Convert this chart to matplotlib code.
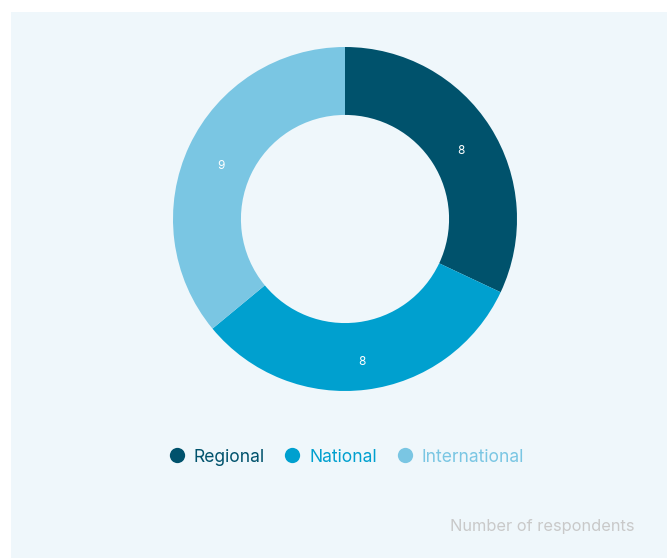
import matplotlib
matplotlib.use("Agg")
import matplotlib.pyplot as plt
from matplotlib.lines import Line2D

categories = ["Regional", "National", "International"]
values = [8, 8, 9]
colors = ["#00526c", "#00a0cf", "#7ac6e3"]
note = "Number of respondents"

W, H = 668, 558
FONT = "Inter"
fig = plt.figure(figsize=(W / 100, H / 100), dpi=100)
fig.patch.set_facecolor("white")
bg = fig.add_axes([11 / W, 0, (667 - 11) / W, (H - 12) / H], zorder=-5)
bg.set_facecolor("#eff7fb")
bg.set_xticks([])
bg.set_yticks([])
for s in bg.spines.values():
    s.set_visible(False)

cx, cy, r = 345, 219, 172
ax = fig.add_axes([(cx - r) / W, (H - cy - r) / H, 2 * r / W, 2 * r / H], zorder=1)
ax.set_facecolor("none")
wedges, texts = ax.pie(values, colors=colors, startangle=90, counterclock=False,
                       radius=1, wedgeprops=dict(width=0.395, linewidth=0),
                       labels=[str(v) for v in values], labeldistance=0.8,
                       textprops=dict(color="white", fontsize=8.5, family=FONT))
for t in texts:
    t.set_ha("center")
    t.set_va("top")
ax.set_xlim(-1, 1)
ax.set_ylim(-1, 1)
ax.set_aspect("equal")
ax.axis("off")

handles = [Line2D([0], [0], marker="o", linestyle="none", markersize=11,
                  markerfacecolor=c, markeredgecolor="none") for c in colors]
leg = fig.legend(handles, categories, loc="center", bbox_to_anchor=(346 / W, 1 - 457 / H),
                 ncol=3, frameon=False, handletextpad=0.47, columnspacing=1.09,
                 handlelength=1.0, prop=dict(family=FONT, size=12.6))
for txt, c in zip(leg.get_texts(), colors):
    txt.set_color(c)

fig.text(634 / W, 1 - 526 / H, note, ha="right", va="center", color="#c9c9c9",
         family=FONT, fontsize=11.8)

fig.savefig("out.png", dpi=100)
